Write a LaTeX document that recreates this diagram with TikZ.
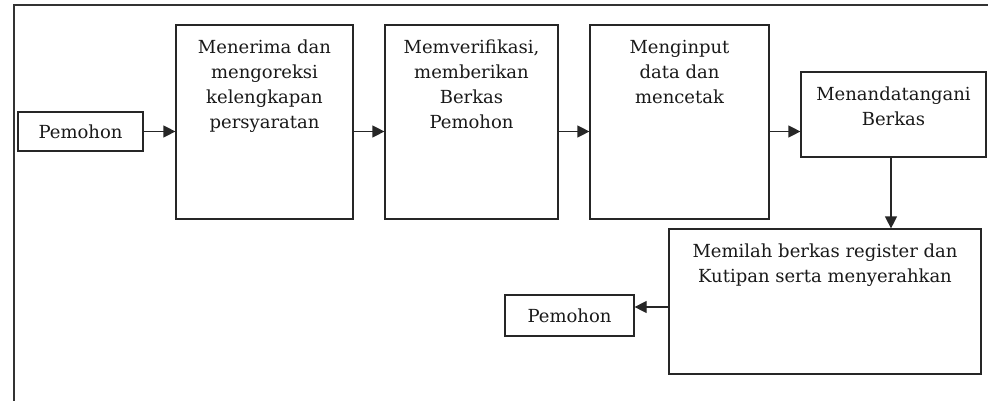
\documentclass[tikz,border=0pt]{standalone}
\usepackage{fontspec}
\setmainfont{DejaVu Serif}
\usetikzlibrary{arrows.meta}
\begin{document}
\begin{tikzpicture}[x=1pt,y=-1pt,
  box/.style={draw=black!85,line width=1.2pt,inner sep=0pt,minimum width=#1},
  txt/.style={font=\fontsize{18}{25}\selectfont,text=black!90},
  lbl/.style={anchor=north,inner sep=0pt,align=center,txt},
  arr/.style={draw=black!85,line width=1.2pt,-{Triangle[length=12pt,width=12pt]}},
  frame/.style={draw=black!80,line width=1.6pt}]
\useasboundingbox (0,0) rectangle (988,401);
\draw[frame] (14,401) -- (14,5) -- (988,5);
\node[box=125pt,minimum height=39pt,txt] (p1) at (80.5,131.5) {Pemohon};
\node[box=177pt,minimum height=194pt] (b1) at (264.5,122) {};
\node[box=173pt,minimum height=194pt] (b2) at (471.5,122) {};
\node[box=179pt,minimum height=194pt] (b3) at (679.5,122) {};
\node[box=185pt,minimum height=85pt] (b4) at (893.5,114.5) {};
\node[box=312pt,minimum height=145pt] (b5) at (825,301.5) {};
\node[box=129pt,minimum height=41pt,txt] (p2) at (569.5,315.5) {Pemohon};
\node[lbl] (t1) at ([yshift=-15.3pt]b1.north) {Menerima dan\\mengoreksi\\kelengkapan\\persyaratan};
\node[lbl] (t2) at ([yshift=-15.3pt]b2.north) {Memverifikasi,\\memberikan\\Berkas\\Pemohon};
\node[lbl] (t3) at ([yshift=-15.3pt]b3.north) {Menginput\\data dan\\mencetak};
\node[lbl] (t4) at ([yshift=-15.3pt]b4.north) {Menandatangani\\Berkas};
\node[lbl] (t5) at ([yshift=-15.3pt]b5.north) {Memilah berkas register dan\\Kutipan serta menyerahkan};
\draw[arr] (p1.east) -- (p1.east -| b1.west);
\draw[arr] (b1.east |- p1.east) -- (b2.west |- p1.east);
\draw[arr] (b2.east |- p1.east) -- (b3.west |- p1.east);
\draw[arr] (b3.east |- p1.east) -- (b4.west |- p1.east);
\draw[arr] ([xshift=-2.5pt]b4.south) -- ([xshift=-2.5pt]b4.south |- b5.north);
\draw[arr] ([yshift=-5.5pt]b5.west) -- ([yshift=-5.5pt]b5.west -| p2.east);
\end{tikzpicture}
\end{document}
